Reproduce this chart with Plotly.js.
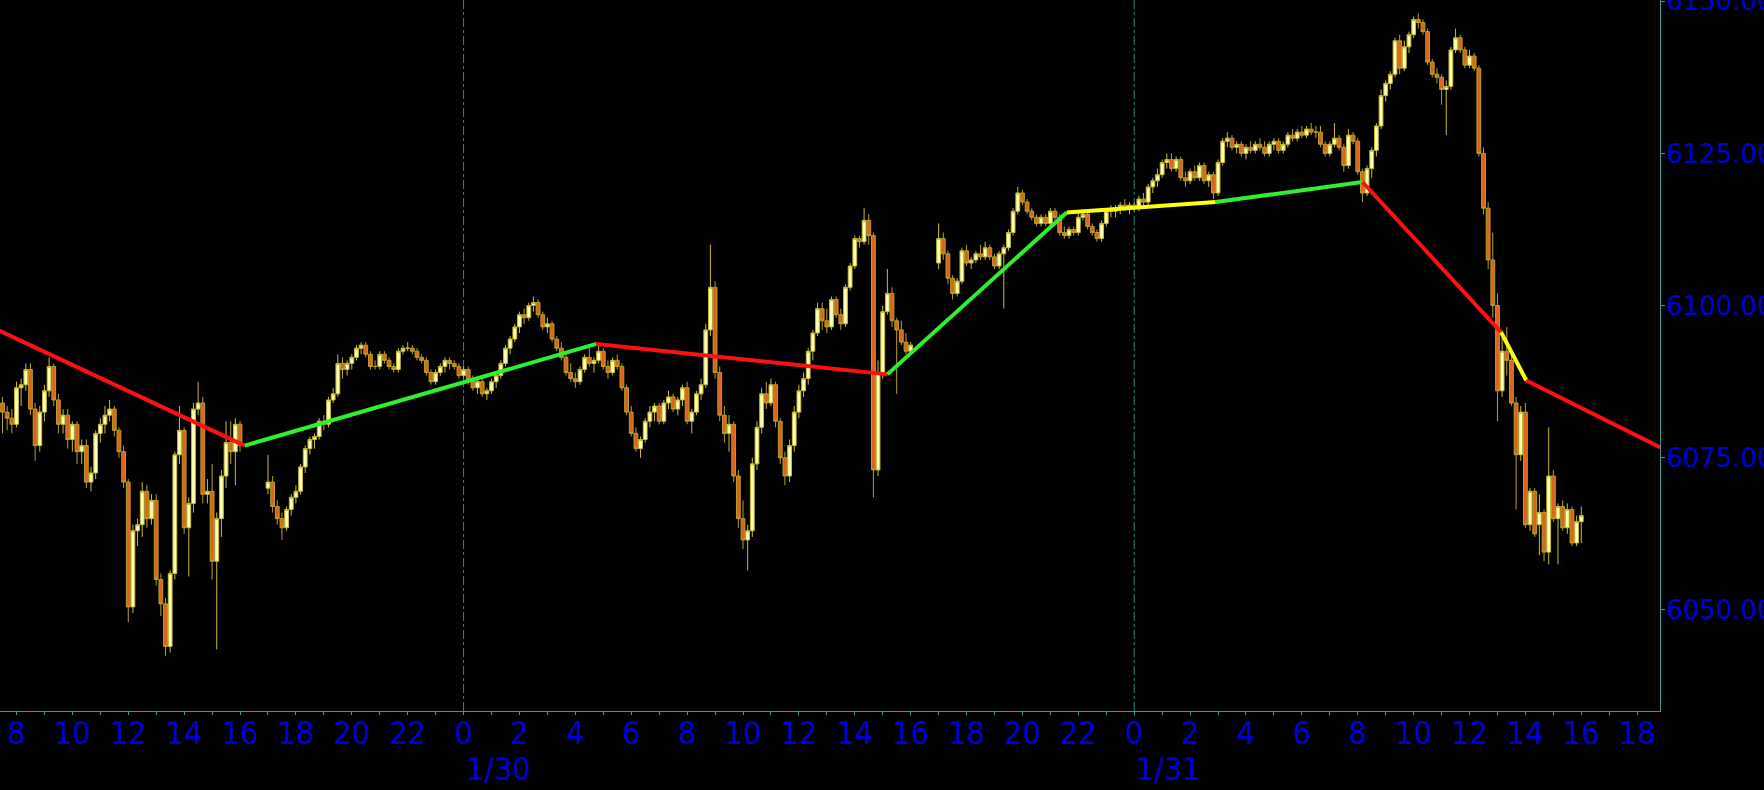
<!DOCTYPE html>
<html>
<head>
<meta charset="utf-8">
<script src="https://cdn.plot.ly/plotly-3.0.1.min.js"></script>
<style>
html,body{margin:0;padding:0;background:#000;}
#chart{width:1764px;height:790px;}
</style>
</head>
<body>
<div id="chart"></div>
<script>
// ---- bar timing (10-minute candles, three trading sessions) ----
const barMinutes = 10;
const sessionStarts = ['2025-01-29 07:30', '2025-01-29 17:00', '2025-01-30 17:00'];

// ---- Session 1 : 1/29 07:30 - 16:00 ----
const s1Open  = [6084,6082.5,6081.5,6080.5,6086.5,6087,6089.5,6083,6077,6082.5,6086,6090,6084.5,6080.5,6082,6078,6080.5,6076,6077,6071,6072.5,6079,6080.5,6082,6083,6079.5,6076,6071,6050.5,6063,6064,6069.5,6065,6068,6055,6051,6044,6056,6075.5,6079.5,6063.5,6067.5,6083,6084,6069,6069.5,6058,6065,6072,6077.5,6076,6080.5];
const s1High  = [6085,6083.5,6083,6087.5,6088,6090.5,6090.5,6084,6083.5,6087,6091.5,6090.5,6085.5,6083,6083,6081,6081,6078,6078,6073.5,6079.5,6081.5,6083.5,6084.5,6083.5,6080,6077,6071.5,6064,6065,6071,6070.5,6069,6069,6056,6052,6056.5,6076,6083.5,6080,6068.5,6084,6087.5,6085,6071.5,6074,6066,6073,6081,6081,6081.5,6081];
const s1Low   = [6079,6079.5,6079,6080,6083.5,6086,6082,6074.5,6076,6081,6085,6083.5,6079,6079,6076.5,6076,6074,6074,6070,6069.5,6071.5,6077.5,6079,6081,6078.5,6075,6070,6048,6049.5,6060.5,6062,6063.5,6064,6054,6049,6042.5,6043,6055,6074,6062.5,6055.5,6066,6082,6067.5,6067.5,6055,6043.5,6062,6070,6074,6070.5,6076];
const s1Close = [6082.5,6081.5,6080.5,6086.5,6087,6089.5,6083,6077,6082.5,6086,6090,6084.5,6080.5,6082,6078,6080.5,6076,6077,6071,6072.5,6079,6080.5,6082,6083,6079.5,6076,6071,6050.5,6063,6064,6069.5,6065,6068,6055,6051,6044,6056,6075.5,6079.5,6063.5,6067.5,6083,6084,6069,6069.5,6058,6065,6072,6077.5,6076,6080.5,6077];

// ---- Session 2 : 1/29 17:00 - 1/30 16:00 ----
const s2Open  = [6070,6071,6067,6065,6063.5,6066.5,6068.5,6069.5,6073.5,6076.5,6078,6078.5,6081,6080.5,6084.5,6085.5,6090.5,6089.5,6090.5,6091.5,6093,6093.5,6092,6090,6090,6092,6091,6090,6089.5,6092.5,6093,6093,6092.5,6091.5,6091,6089,6087.5,6089,6090,
 6091,6090.5,6090,6088.5,6089.5,6087.5,6086.5,6087.5,6085.5,6086,6087.5,6088.5,6090.5,6093,6094.5,6096.5,6098.5,6098,6100,6100.5,6098.5,6096.5,6097,6094.5,6093,6091.5,6089,6088,6087.5,6089.5,6091.5,6090.5,6091,6092.5,6090,6089,6091,6090,6086.5,6082.5,6079,6076.5,6078,6081,6082.5,6083.5,6081,6084,6085,6083,6084.5,6086.5,6081,6082.5,6085.5,6087,6096,6103,6089,6082,6079,6080.5,6072,6065,6061.5,6063,6074,6080,6085.5,6084,6087,6081,6075,6072,6077,6082.5,6086,6088,6092.5,6095.5,6099.5,6097.5,6096.5,6101,6098.5,6097,6103,6106.5,6111,6110.5,6114,6111.5,6073,6089,6099,6102,6097.5,6096,6094,6092.5];
const s2High  = [6075.5,6072,6068,6066,6067,6069,6070.5,6074,6077,6078.5,6079,6081.5,6082,6085,6086.5,6092,6091.5,6091,6092,6093.5,6094,6094,6092.5,6091,6092.5,6092.5,6091.5,6090.5,6093,6093.5,6094,6093.5,6093,6092,6091.5,6089.5,6089.5,6090.5,6091.5,
 6091.5,6091,6090.5,6090,6090,6088.5,6088,6088,6086.5,6088,6089,6091,6093.5,6095,6097,6099,6099.5,6100.5,6101.5,6101,6099,6098,6097.5,6095,6094,6092,6090.5,6089,6090,6092,6093,6091.5,6093.5,6093,6091,6091.5,6092,6090.5,6087,6083.5,6080,6078.5,6081.5,6083.5,6084,6084,6084.5,6086,6085.5,6085,6087,6087.5,6083,6086,6088,6097,6110,6104,6090,6083.5,6082,6081,6073,6068,6064,6075,6081,6086.5,6087.5,6088,6087.5,6081.5,6076,6078,6083.5,6087,6089,6093,6096,6100.5,6100.5,6099.5,6101.5,6101.5,6099.5,6103.5,6107,6111.5,6111.5,6116,6115,6112,6091,6100,6106,6103,6098,6097.5,6095.5,6094];
const s2Low   = [6069,6066,6064,6061.5,6063,6065.5,6067.5,6069,6072.5,6075.5,6076.5,6078,6079.5,6080,6084,6085,6088,6088.5,6089.5,6091,6092,6091.5,6089.5,6089.5,6089.5,6090.5,6089.5,6089,6089,6092,6092.5,6092,6091,6090.5,6088.5,6087,6087,6088.5,6089,
 6089.5,6089.5,6088,6088,6087,6086,6085.5,6085,6084.5,6085.5,6086.5,6088,6090,6092,6094,6095.5,6097,6097.5,6099,6098,6096,6095.5,6094,6092.5,6091,6088.5,6087.5,6086.5,6087,6089,6090,6089,6090.5,6089.5,6088,6088.5,6089.5,6086,6082,6078.5,6076,6075,6077.5,6080,6081,6080.5,6080.5,6083,6082.5,6082,6083.5,6080.5,6079,6082,6084.5,6086.5,6095,6088,6081,6077.5,6076,6071,6063.5,6060,6056.5,6062,6073,6079,6083,6083.5,6080,6074,6070.5,6071,6076,6081.5,6085,6087,6091,6095,6096,6095.5,6096,6098,6096,6096.5,6102.5,6106,6109.5,6110,6110,6068.5,6072,6088,6098.5,6096.5,6085.5,6093.5,6092,6092];
const s2Close = [6071,6067,6065,6063.5,6066.5,6068.5,6069.5,6073.5,6076.5,6078,6078.5,6081,6080.5,6084.5,6085.5,6090.5,6089.5,6090.5,6091.5,6093,6093.5,6092,6090,6090,6092,6091,6090,6089.5,6092.5,6093,6093,6092.5,6091.5,6091,6089,6087.5,6089,6090,6091,
 6090.5,6090,6088.5,6089.5,6087.5,6086.5,6087.5,6085.5,6086,6087.5,6088.5,6090.5,6093,6094.5,6096.5,6098.5,6098,6100,6100.5,6098.5,6096.5,6097,6094.5,6093,6091.5,6089,6088,6087.5,6089.5,6091.5,6090.5,6091,6092.5,6090,6089,6091,6090,6086.5,6082.5,6079,6076.5,6078,6081,6082.5,6083.5,6081,6084,6085,6083,6084.5,6086.5,6081,6082.5,6085.5,6087,6096,6103,6089,6082,6079,6080.5,6072,6065,6061.5,6063,6074,6080,6085.5,6084,6087,6081,6075,6072,6077,6082.5,6086,6088,6092.5,6095.5,6099.5,6097.5,6096.5,6101,6098.5,6097,6103,6106.5,6111,6110.5,6114,6111.5,6073,6089,6099,6102,6097.5,6096,6094,6092.5,6093.5];

// ---- Session 3 : 1/30 17:00 - 1/31 16:00 ----
const s3Open  = [6107,6111,6108.5,6104.5,6102,6104,6109,6107,6107.5,6108.5,6108,6109.5,6108,6106.5,6108.5,6109.5,6112,6115.5,6118.5,6117,6115.5,6114.5,6113.5,6114.5,6113.5,6115.5,6114.5,6112,6111.5,6112.5,6112,6114.5,6115,6113,6112,6111,6113.5,6115.5,6115.5,
 6116,6116.5,6116,6116.5,6116,6117.5,6117,6119.5,6120.5,6121.5,6123.5,6124,6122.5,6124,6121,6120.5,6122,6121,6123,6120.5,6121.5,6118.5,6123.5,6127,6127.5,6126,6126.5,6125,6126,6125.5,6126.5,6126,6125,6126.5,6127,6125.5,6126.5,6128,6127.5,6128.5,6128,6129,6128.5,6128.5,6126.5,6125,6126.5,6127.5,6126,6123,6128,6127,6122,6118.5,6122.5,6125.5,6129.5,6134.5,6136.5,6138,6143.5,6139,6142.5,6144.5,6147,6146.5,6145,6140,6138,6137.5,6135.5,6136,6142,6144,6142,6139.5,6141,6139,6125,6116,6107.5,6100,6086,6092.5,6091,6084,6075.5,6082.5,6064,6069.5,6064,6066,6059.5,6072,6065,6067,6063.5,6066.5,6061,6064.5];
const s3High  = [6113.5,6112,6109,6105,6104.5,6109.5,6110,6108,6109,6110,6110.5,6110,6108.5,6109,6110,6112.5,6116,6119.5,6119,6117.5,6116,6115,6115,6115,6116,6116,6115,6113,6113,6113,6115.5,6115.5,6115.5,6113.5,6112.5,6114,6116,6116.5,6116.5,
 6117,6117.5,6117,6117,6118,6118.5,6120,6121,6122.5,6124,6125,6125,6124.5,6124.5,6122,6122.5,6123,6123.5,6123.5,6122,6122,6124,6127.5,6128.5,6128,6127,6127,6126.5,6127,6127,6127.5,6127,6127,6127.5,6127.5,6127,6128.5,6129,6129,6129.5,6129.5,6130,6129.5,6129.5,6127,6127,6130,6128,6126.5,6129,6128.5,6127.5,6122.5,6123,6126,6130,6135.5,6137,6138.5,6144,6144.5,6143.5,6145,6147.5,6148,6147,6145.5,6140.5,6139,6138,6137,6142.5,6145.5,6144.5,6142.5,6142,6141.5,6139.5,6126,6117,6112,6102,6096,6096.5,6092,6085,6083.5,6084,6070,6070,6069,6066.5,6080,6073,6067.5,6068,6067.5,6067,6065.5,6067];
const s3Low   = [6106,6107.5,6103.5,6101,6101.5,6103.5,6106.5,6106,6107,6107.5,6107.5,6107.5,6106,6106,6099.5,6109,6111.5,6115,6116.5,6115,6114,6113,6113,6113,6113,6114,6111.5,6111,6111,6111.5,6111.5,6114,6112.5,6111.5,6110.5,6110.5,6113,6114.5,6114.5,
 6115,6115.5,6115,6115.5,6115.5,6116.5,6116.5,6118.5,6119.5,6121,6122.5,6122,6122,6120.5,6119.5,6120,6120.5,6120.5,6120,6119.5,6117.5,6118,6123,6126,6125.5,6125,6124.5,6124,6125,6125,6125.5,6124.5,6124.5,6125.5,6125,6125,6126,6127,6127,6127.5,6127.5,6128,6127.5,6126,6124.5,6124.5,6126,6125.5,6122,6122.5,6126.5,6121.5,6117,6118,6121,6124.5,6129,6133.5,6135.5,6137.5,6138,6138.5,6141.5,6144,6145.5,6144.5,6139.5,6137.5,6136.5,6133,6128,6135.5,6141.5,6141.5,6139,6139,6138.5,6124.5,6115,6106,6098,6081,6085,6088.5,6083.5,6066.5,6074.5,6063.5,6063,6062,6059,6058,6057.5,6064.5,6057.5,6063,6062.5,6060.5,6060.5,6061];
const s3Close = [6111,6108.5,6104.5,6102,6104,6109,6107,6107.5,6108.5,6108,6109.5,6108,6106.5,6108.5,6109.5,6112,6115.5,6118.5,6117,6115.5,6114.5,6113.5,6114.5,6113.5,6115.5,6114.5,6112,6111.5,6112.5,6112,6114.5,6115,6113,6112,6111,6113.5,6115.5,6115.5,6116,
 6116.5,6116,6116.5,6116,6117.5,6117,6119.5,6120.5,6121.5,6123.5,6124,6122.5,6124,6121,6120.5,6122,6121,6123,6120.5,6121.5,6118.5,6123.5,6127,6127.5,6126,6126.5,6125,6126,6125.5,6126.5,6126,6125,6126.5,6127,6125.5,6126.5,6128,6127.5,6128.5,6128,6129,6128.5,6128.5,6126.5,6125,6126.5,6127.5,6126,6123,6128,6127,6122,6118.5,6122.5,6125.5,6129.5,6134.5,6136.5,6138,6143.5,6139,6142.5,6144.5,6147,6146.5,6145,6140,6138,6137.5,6135.5,6136,6142,6144,6142,6139.5,6141,6139,6125,6116,6107.5,6100,6086,6092.5,6091,6084,6075.5,6082.5,6064,6069.5,6062.5,6066,6059.5,6072,6065,6067,6063.5,6066.5,6061,6064.5,6065.5];

// ---- zigzag overlay ----
const zzTime  = ['2025-01-29 07:20','2025-01-29 16:10','2025-01-30 04:45','2025-01-30 15:10','2025-01-30 21:35','2025-01-31 02:55','2025-01-31 08:10','2025-01-31 13:08','2025-01-31 14:02','2025-01-31 18:50'];
const zzPrice = [6096, 6077, 6093.7, 6088.7, 6115.3, 6117, 6120.3, 6095.6, 6087.7, 6076.7];
const zzColor = ['#ff1010','#2ef02e','#ff1010','#2ef02e','#ffff10','#2ef02e','#ff1010','#ffff10','#ff1010'];

// ---- axis labels ----
const dayTimes  = ['2025-01-30 00:00', '2025-01-31 00:00'];
const dayLabels = ['1/30', '1/31'];
const xRange = ['2025-01-29 07:24:36', '2025-01-31 18:49:00'];
const yRange = [6033.4, 6150.2];

// ---- styles ----
const textBlue = '#0000d2';
const axisColor = '#3c9a9a';
const gridColor = '#2a8a7c';
const narrowFont = 'Liberation Sans Narrow, DejaVu Sans Condensed, Arial Narrow, sans-serif';

function makeTimes(start, n) {
  const [d, t] = start.split(' ');
  const [Y, M, D] = d.split('-').map(Number);
  const [h, mi] = t.split(':').map(Number);
  const base = Date.UTC(Y, M - 1, D, h, mi);
  const out = [];
  for (let i = 0; i < n; i++) {
    out.push(new Date(base + i * barMinutes * 60000).toISOString().slice(0, 16).replace('T', ' '));
  }
  return out;
}

const sessions = [
  [s1Open, s1High, s1Low, s1Close],
  [s2Open, s2High, s2Low, s2Close],
  [s3Open, s3High, s3Low, s3Close]
];
let X = [], O = [], H = [], L = [], C = [];
sessions.forEach((s, i) => {
  X = X.concat(makeTimes(sessionStarts[i], s[3].length));
  O = O.concat(s[0]); H = H.concat(s[1]); L = L.concat(s[2]); C = C.concat(s[3]);
});

const traces = [{
  type: 'candlestick',
  x: X, open: O, high: H, low: L, close: C,
  increasing: {line: {color: '#c8bc36', width: 1}, fillcolor: '#ffffb4'},
  decreasing: {line: {color: '#b8a02a', width: 1}, fillcolor: '#e0601c'},
  whiskerwidth: 0,
  hoverinfo: 'skip',
  showlegend: false
}];
for (let i = 0; i < zzTime.length - 1; i++) {
  traces.push({
    type: 'scatter', mode: 'lines',
    x: [zzTime[i], zzTime[i + 1]], y: [zzPrice[i], zzPrice[i + 1]],
    line: {color: zzColor[i], width: 4},
    hoverinfo: 'skip', showlegend: false
  });
}

const layout = {
  width: 1764, height: 790,
  paper_bgcolor: '#000', plot_bgcolor: '#000',
  margin: {l: 0, r: 104, t: 0, b: 79},
  showlegend: false,
  boxgap: 0.1,
  boxgroupgap: 0.1,
  xaxis: {
    type: 'date', range: xRange,
    rangeslider: {visible: false},
    showgrid: false, zeroline: false,
    showline: true, linecolor: axisColor, linewidth: 1,
    ticks: 'outside', ticklen: 3, tickcolor: axisColor,
    tick0: '2025-01-29 00:00', dtick: 7200000, tickformat: '%-H',
    minor: {dtick: 3600000, ticks: 'outside', ticklen: 3, tickcolor: axisColor, showgrid: false},
    ticklabelstandoff: -9,
    tickfont: {family: narrowFont, size: 32, color: textBlue}
  },
  yaxis: {
    side: 'right', range: yRange,
    tick0: 6050, dtick: 25, tickformat: '.2f',
    showgrid: false, zeroline: false,
    showline: true, linecolor: axisColor, linewidth: 1,
    ticks: 'outside', ticklen: 4, tickcolor: axisColor,
    ticklabeloverflow: 'allow',
    ticklabelstandoff: -4,
    tickfont: {family: 'DejaVu Sans, Verdana, sans-serif', size: 26, color: textBlue}
  },
  shapes: dayTimes.map(t => ({
    type: 'line', xref: 'x', yref: 'paper', x0: t, x1: t, y0: 0, y1: 1,
    line: {color: gridColor, width: 1, dash: 'dashdot'}, layer: 'below'
  })),
  annotations: dayTimes.map((t, i) => ({
    xref: 'x', yref: 'paper', x: t, y: 0, yshift: -37,
    xanchor: 'left', yanchor: 'top', showarrow: false,
    text: dayLabels[i],
    font: {family: narrowFont, size: 32, color: textBlue}
  }))
};

Plotly.newPlot('chart', traces, layout, {staticPlot: true, displayModeBar: false});
</script>
</body>
</html>
